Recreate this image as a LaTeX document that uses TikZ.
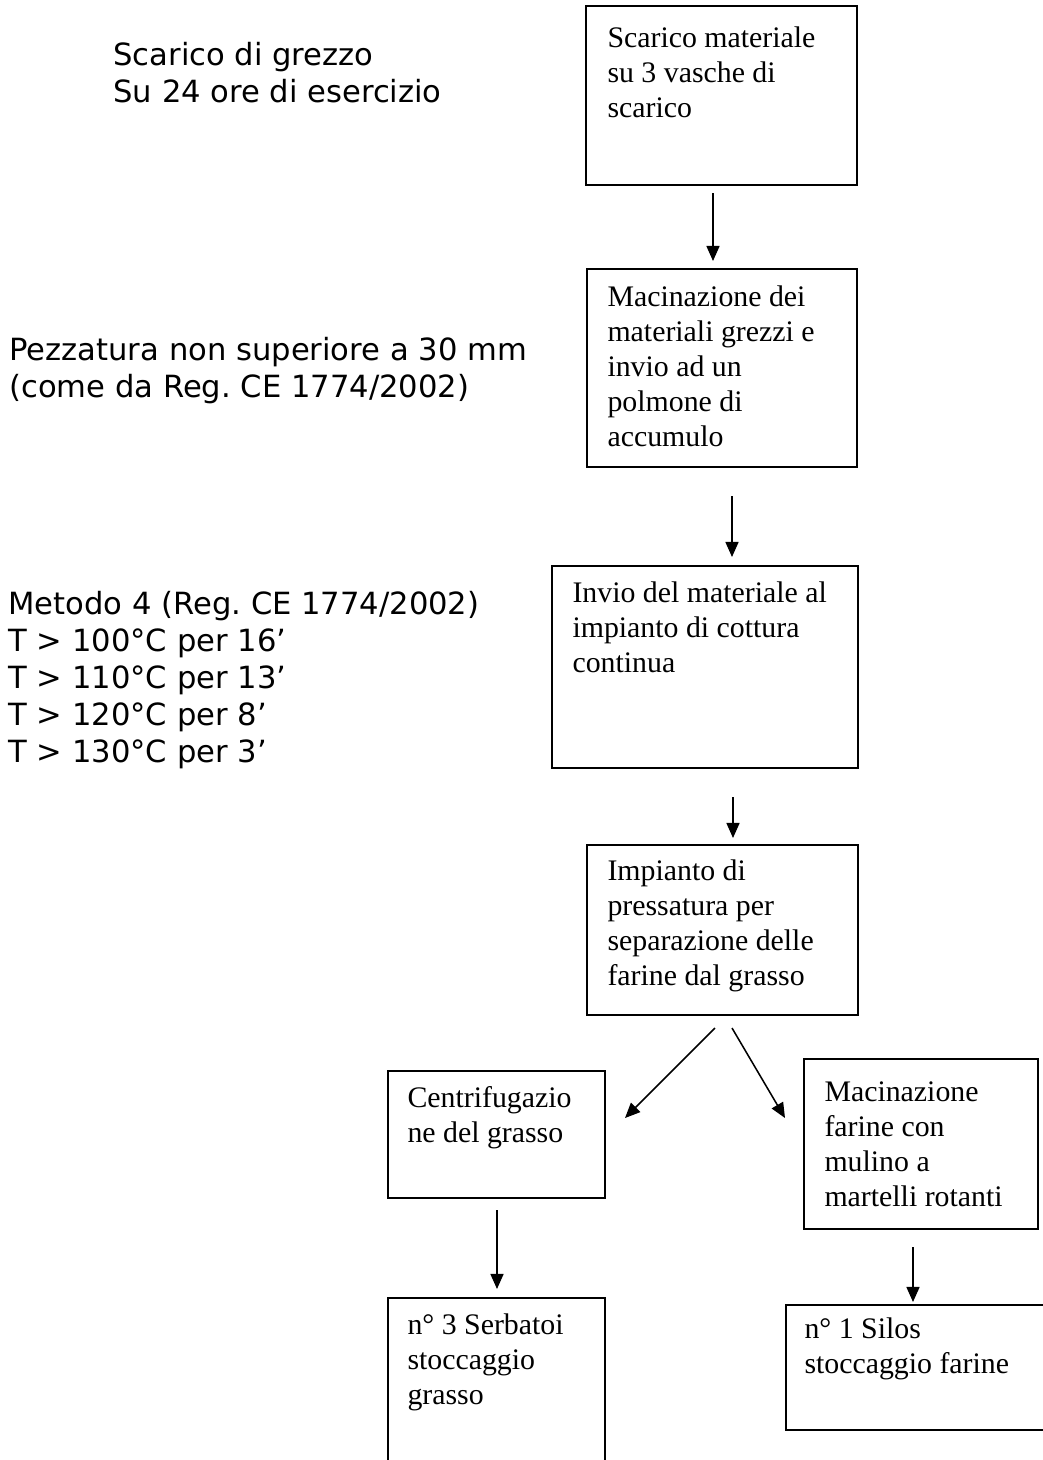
\documentclass[tikz,border=0pt]{standalone}
\usepackage{fontspec}
\setmainfont{Liberation Serif}
\newfontfamily\vsans{DejaVu Sans}
\usetikzlibrary{arrows.meta,fit}
\frenchspacing
\begin{document}
\begin{tikzpicture}[x=0.3922pt,y=-0.3922pt,
  box/.style={draw, line width=0.75pt, inner sep=0pt},
  txt/.style={anchor=base west, align=left, inner sep=0pt, font=\fontsize{11.7}{13.7}\selectfont},
  stxt/.style={anchor=base west, align=left, inner sep=0pt, font=\vsans\fontsize{12}{14.5}\selectfont},
  arr/.style={line width=0.6pt, -{Triangle[length=5.9pt,width=5.1pt]}}]
\useasboundingbox (0,0) rectangle (1043,1460);
\clip (0,0) rectangle (1043,1460);

% left notes (positions are the baselines of the last lines)
\node[stxt] (n1) at (113,102) {Scarico di grezzo\\Su 24 ore di esercizio};
\node[stxt] (n2) at (9,397) {Pezzatura non superiore a 30 mm\\(come da Reg. CE 1774/2002)};
\node[stxt] (n3) at (8,762) {Metodo 4 (Reg. CE 1774/2002)\\T > 100°C per 16’\\T > 110°C per 13’\\T > 120°C per 8’\\T > 130°C per 3’};

% boxes
\node[box, fit={(586,6) (857,185)}] (b1) {};
\node[txt] (t1) at (607,117) {Scarico materiale\\su 3 vasche di\\scarico};

\node[box, fit={(587,269) (857,467)}] (b2) {};
\node[txt] (t2) at (607,446) {Macinazione dei\\materiali grezzi e\\invio ad un\\polmone di\\accumulo};

\node[box, fit={(552,566) (858,768)}] (b3) {};
\node[txt] (t3) at (572,672) {Invio del materiale al\\impianto di cottura\\continua};

\node[box, fit={(587,845) (858,1015)}] (b4) {};
\node[txt] (t4) at (607,985) {Impianto di\\pressatura per\\separazione delle\\farine dal grasso};

\node[box, fit={(388,1071) (605,1198)}] (b5) {};
\node[txt] (t5) at (407,1142) {Centrifugazio\\ne del grasso};

\node[box, fit={(804,1059) (1038,1229)}] (b6) {};
\node[txt] (t6) at (824,1206) {Macinazione\\farine con\\mulino a\\martelli rotanti};

\node[box, fit={(388,1298) (605,1480)}] (b7) {};
\node[txt] (t7) at (407,1404) {n° 3 Serbatoi\\stoccaggio\\grasso};

\node[box, fit={(786,1305) (1070,1430)}] (b8) {};
\node[txt] (t8) at (804,1373) {n° 1 Silos\\stoccaggio farine};

% connector ends
\coordinate (a1s) at (713,193);  \coordinate (a1e) at (713,261);
\coordinate (a2s) at (732,496);  \coordinate (a2e) at (732,557);
\coordinate (a3s) at (733,797);  \coordinate (a3e) at (733,838);
\coordinate (a4s) at (715,1028); \coordinate (a4e) at (625,1118);
\coordinate (a5s) at (732,1028); \coordinate (a5e) at (785,1118);
\coordinate (a6s) at (497,1210); \coordinate (a6e) at (497,1289);
\coordinate (a7s) at (913,1247); \coordinate (a7e) at (913,1302);

\draw[arr] (a1s) -- (a1e);
\draw[arr] (a2s) -- (a2e);
\draw[arr] (a3s) -- (a3e);
\draw[arr] (a4s) -- (a4e);
\draw[arr] (a5s) -- (a5e);
\draw[arr] (a6s) -- (a6e);
\draw[arr] (a7s) -- (a7e);
\end{tikzpicture}
\end{document}
